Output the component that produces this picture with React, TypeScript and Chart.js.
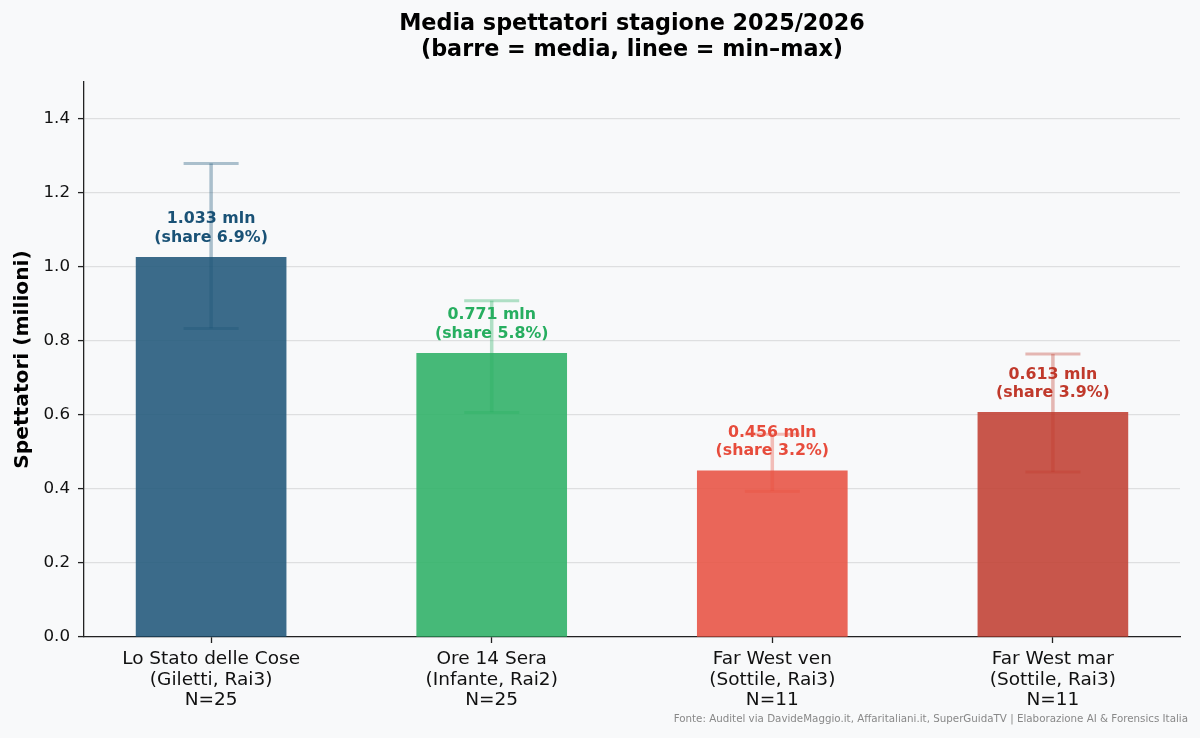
import { useEffect, useRef } from "react";
import Chart from "chart.js/auto";

const categories = [
  ["Lo Stato delle Cose", "(Giletti, Rai3)", "N=25"],
  ["Ore 14 Sera", "(Infante, Rai2)", "N=25"],
  ["Far West ven", "(Sottile, Rai3)", "N=11"],
  ["Far West mar", "(Sottile, Rai3)", "N=11"],
];
const meanValues = [1.026, 0.767, 0.449, 0.607];
const minValues = [0.834, 0.607, 0.394, 0.446];
const maxValues = [1.28, 0.909, 0.548, 0.765];
const meanLabels = ["1.033 mln", "0.771 mln", "0.456 mln", "0.613 mln"];
const shareLabels = ["(share 6.9%)", "(share 5.8%)", "(share 3.2%)", "(share 3.9%)"];
const barColors = ["#1a5276", "#27ae60", "#e74c3c", "#c0392b"];
const yTicks = [0, 0.2, 0.4, 0.6, 0.8, 1.0, 1.2, 1.4];
const titleLines = ["Media spettatori stagione 2025/2026", "(barre = media, linee = min–max)"];
const footer =
  "Fonte: Auditel via DavideMaggio.it, Affaritaliani.it, SuperGuidaTV | Elaborazione AI & Forensics Italia";

const FONT = "'DejaVu Sans', sans-serif";

const rgba = (hex: string, a: number) => {
  const n = parseInt(hex.slice(1), 16);
  return `rgba(${(n >> 16) & 255}, ${(n >> 8) & 255}, ${n & 255}, ${a})`;
};

// min-max whiskers + value labels on top of the bars, title and source note
const errorBarPlugin = {
  id: "errorBars",
  afterDatasetsDraw(chart: any) {
    const { ctx, scales } = chart;
    const x = scales.x;
    const y = scales.y;
    ctx.save();
    meanValues.forEach((mean, i) => {
      const px = x.getPixelForValue(i);
      const top = y.getPixelForValue(maxValues[i]);
      const bot = y.getPixelForValue(minValues[i]);
      ctx.strokeStyle = rgba(barColors[i], 0.35);
      ctx.lineWidth = 3.5;
      ctx.beginPath();
      ctx.moveTo(px, top);
      ctx.lineTo(px, bot);
      ctx.stroke();
      ctx.lineWidth = 3;
      ctx.beginPath();
      ctx.moveTo(px - 27.5, top);
      ctx.lineTo(px + 27.5, top);
      ctx.moveTo(px - 27.5, bot);
      ctx.lineTo(px + 27.5, bot);
      ctx.stroke();

      const barTop = y.getPixelForValue(mean);
      ctx.fillStyle = barColors[i];
      ctx.font = `bold 15.8px ${FONT}`;
      ctx.textAlign = "center";
      ctx.textBaseline = "middle";
      ctx.fillText(meanLabels[i], px, barTop - 38);
      ctx.fillText(shareLabels[i], px, barTop - 19.5);
    });
    ctx.restore();
  },
  afterDraw(chart: any) {
    const { ctx, chartArea } = chart;
    ctx.save();
    ctx.fillStyle = "#000";
    ctx.font = `bold 22.3px ${FONT}`;
    ctx.textAlign = "center";
    ctx.textBaseline = "middle";
    const cx = (chartArea.left + chartArea.right) / 2;
    ctx.fillText(titleLines[0], cx, 24);
    ctx.fillText(titleLines[1], cx, 50);

    ctx.fillStyle = "#888888";
    ctx.font = `10.3px ${FONT}`;
    ctx.textAlign = "right";
    ctx.fillText(footer, 1188, 719);
    ctx.restore();
  },
};

const App = () => {
  const chartRef = useRef<HTMLCanvasElement>(null);

  useEffect(() => {
    if (!chartRef.current) return;
    document.body.style.margin = "0";
    Chart.defaults.font.family = FONT;

    const chart = new Chart(chartRef.current, {
      type: "bar",
      data: {
        datasets: [
          {
            label: "Media",
            data: meanValues.map((v, i) => ({ x: i, y: v })),
            backgroundColor: barColors.map((c) => rgba(c, 0.85)),
            borderWidth: 0,
            barThickness: 150,
          },
        ],
      },
      options: {
        responsive: true,
        maintainAspectRatio: false,
        animation: false,
        layout: { padding: { top: 82, left: 0, right: 20, bottom: 0 } },
        plugins: {
          legend: { display: false },
          tooltip: { enabled: false },
          title: { display: false },
        },
        scales: {
          x: {
            type: "linear",
            min: -0.453,
            max: 3.453,
            offset: false,
            afterBuildTicks: (axis: any) => {
              axis.ticks = categories.map((_, i) => ({ value: i }));
            },
            afterFit: (axis: any) => {
              axis.height = 101;
            },
            grid: {
              offset: false,
              drawOnChartArea: false,
              drawTicks: true,
              tickLength: 6,
              tickColor: "#222",
              tickWidth: 1.3,
            },
            border: { color: "#222", width: 1.3 },
            ticks: {
              autoSkip: false,
              maxRotation: 0,
              color: "#111",
              padding: 6,
              font: { size: 18.5, lineHeight: 1.11 },
              callback: (v: any) => categories[v as number],
            },
          },
          y: {
            min: 0,
            max: 1.5,
            afterBuildTicks: (axis: any) => {
              axis.ticks = yTicks.map((v) => ({ value: v }));
            },
            afterFit: (axis: any) => {
              axis.width = 84;
            },
            grid: {
              color: "rgba(0, 0, 0, 0.1)",
              lineWidth: 1.2,
              tickLength: 6,
              tickColor: "#222",
              tickWidth: 1.3,
            },
            border: { color: "#222", width: 1.3 },
            ticks: {
              color: "#111",
              padding: 8,
              font: { size: 16.7 },
              callback: (v: any) => Number(v).toFixed(1),
            },
            title: {
              display: true,
              text: "Spettatori (milioni)",
              color: "#000",
              font: { size: 20.2, weight: "bold", lineHeight: 1.2 },
              padding: { top: 10.5, bottom: 0 },
            },
          },
        },
      },
      plugins: [errorBarPlugin],
    });

    return () => {
      chart.destroy();
    };
  }, []);

  return (
    <div style={{ width: "1200px", height: "738px", background: "#f8f9fa" }}>
      <canvas ref={chartRef} />
    </div>
  );
};

export default App;
